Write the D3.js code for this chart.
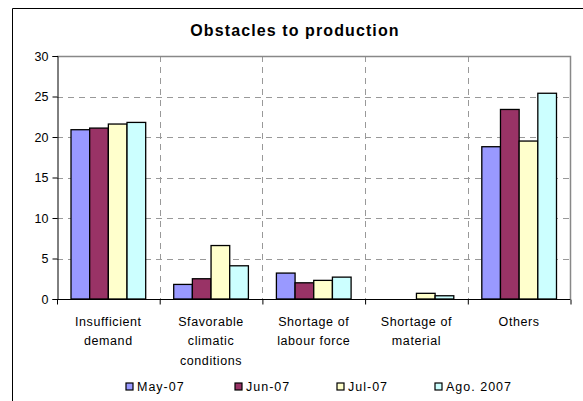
<!DOCTYPE html>
<html><head><meta charset="utf-8">
<script src="https://cdn.jsdelivr.net/npm/d3@7"></script>
<style>body{margin:0;background:#fff}svg{display:block;font-family:"Liberation Sans",Arial,sans-serif}</style>
</head><body><svg id="c" width="583" height="401"></svg>
<script>
const categories = [["Insufficient","demand"],["Sfavorable","climatic","conditions"],["Shortage of","labour force"],["Shortage of","material"],["Others"]];
const seriesNames = ["May-07","Jun-07","Jul-07","Ago. 2007"];
const seriesColors = ["#9999FF","#993366","#FFFFCC","#CCFFFF"];
const may07 = [20.9, 1.8, 3.2, 0, 18.8];
const jun07 = [21.1, 2.5, 2.0, 0, 23.4];
const jul07 = [21.6, 6.6, 2.3, 0.7, 19.5];
const ago07 = [21.8, 4.1, 2.7, 0.4, 25.4];
const seriesValues = [may07, jun07, jul07, ago07];
const yTicks = [0,5,10,15,20,25,30];

const svg = d3.select("#c");
const L=57, R=570.5, T=56, B=299;
// frame
svg.append("path").attr("d","M12.5,401 L12.5,8.5 L583,8.5").attr("fill","none").attr("stroke","#000").attr("stroke-width",1);
svg.append("text").attr("x",295).attr("y",36).attr("text-anchor","middle").attr("font-size",16).attr("font-weight","bold").attr("letter-spacing",1.1).text("Obstacles to production");

const x0 = d3.scaleBand().domain(d3.range(categories.length)).range([L,R]);
const y = d3.scaleLinear().domain([0,30]).range([B,T]);
const bw = x0.bandwidth()/5.5;

// gridlines
const g = svg.append("g");
yTicks.filter(t=>t>0&&t<30).forEach(t=>{
  g.append("line").attr("x1",L).attr("x2",R).attr("y1",Math.round(y(t))+0.5).attr("y2",Math.round(y(t))+0.5).attr("stroke","#999").attr("stroke-dasharray","6,5");
});
d3.range(1,categories.length).forEach(i=>{
  g.append("line").attr("x1",Math.round(x0(i))+0.5).attr("x2",Math.round(x0(i))+0.5).attr("y1",T).attr("y2",B).attr("stroke","#999").attr("stroke-dasharray","6,5");
});
// top/right border
svg.append("path").attr("d",`M${L},${T+0.5} L${R},${T+0.5} L${R},${B}`).attr("fill","none").attr("stroke","#888").attr("stroke-width",1.5);

// bars
seriesValues.forEach((vals,si)=>{
  svg.append("g").selectAll("rect").data(vals).join("rect")
    .attr("x",(d,i)=>x0(i)+0.75*bw+si*bw)
    .attr("y",d=>y(d))
    .attr("width",bw)
    .attr("height",d=>B-y(d))
    .attr("fill",seriesColors[si])
    .attr("stroke",d=>d>0?"#000":"none").attr("stroke-width",1.3);
});

// axes
const ya = d3.axisLeft(y).tickValues(yTicks).tickSize(5).tickPadding(4);
const yg = svg.append("g").attr("transform",`translate(${L+0.5},0)`).call(ya);
yg.select(".domain").attr("stroke","#000");
yg.selectAll(".tick line").attr("stroke","#000");
yg.selectAll("text").attr("font-size",12.5).attr("font-family","Liberation Sans, Arial").attr("fill","#000");

const xa = d3.axisBottom(d3.scaleLinear().domain([0,5]).range([L,R])).tickValues(d3.range(0,6)).tickSize(5).tickFormat("");
const xg = svg.append("g").attr("transform",`translate(0,${B+0.5})`).call(xa);
xg.select(".domain").attr("stroke","#000").attr("d",`M${L},0H${R}`);
xg.selectAll(".tick line").attr("stroke","#000");

// x labels
categories.forEach((lines,i)=>{
  const t = svg.append("text").attr("text-anchor","middle").attr("font-size",12.5).attr("letter-spacing",0.6);
  lines.forEach((ln,j)=>t.append("tspan").attr("x",x0(i)+x0.bandwidth()/2).attr("y",325.5+j*19.5).text(ln));
});

// legend
const lx = [126,235,337,435];
seriesNames.forEach((n,i)=>{
  svg.append("rect").attr("x",lx[i]).attr("y",383).attr("width",7).attr("height",7).attr("fill",seriesColors[i]).attr("stroke","#000").attr("stroke-width",1.2);
  svg.append("text").attr("x",lx[i]+11).attr("y",391).attr("font-size",12.5).attr("letter-spacing",1).text(n);
});
</script></body></html>
